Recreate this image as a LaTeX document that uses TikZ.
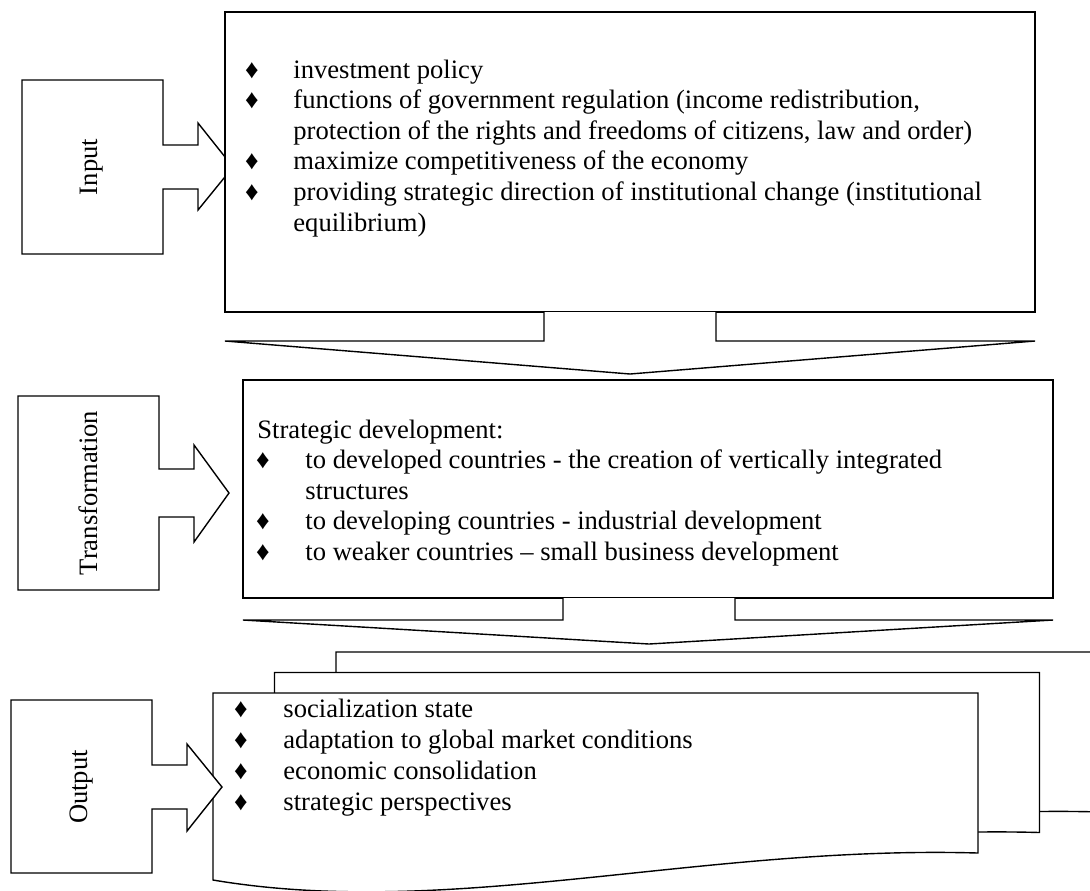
\documentclass[tikz,border=0pt]{standalone}
\usepackage{fontspec}
\setmainfont{Liberation Serif}
\tikzset{
  outline/.style={draw,line width=.7pt,fill=white},
  txt/.style={font=\fontsize{13.3}{15.3}\selectfont,inner sep=0pt,anchor=base west},
  bul/.style={font=\fontsize{13.3}{15.3}\selectfont,inner sep=0pt,anchor=base},
  side/.style={font=\fontsize{13.3}{15.3}\selectfont,rotate=90}
}
\begin{document}
\begin{tikzpicture}[x=.5pt,y=-.5pt]
	\useasboundingbox (0,0) rectangle (1090,890);
	\clip (0,0) rectangle (1090,890);
	%	\draw [color=gray!50]  [step=10] (0,0) grid (1090,890);
	
	% input
	\draw[outline] (22,80) -- (163,80) -- (163,145) -- (198,145) -- (198,123) -- (233,167) -- (198,210) -- (198,189) -- (163,189) -- (163,254) -- (22,254) -- cycle;
	\node[side] (inlab) at (92,167) {Input};
	\draw[outline] (225,12) rectangle (1035,312);
	\foreach \n/\yy in {1/78,2/108.6,3/169.8,4/200.4}
		\node[bul] (inb\n) at (252,\yy) {♦};
	\foreach \n/\yy/\t in {1/78/{investment policy},
		2/108.6/{functions of government regulation (income redistribution,},
		3/139.2/{protection of the rights and freedoms of citizens, law and order)},
		4/169.8/{maximize competitiveness of the economy},
		5/200.4/{providing strategic direction of institutional change (institutional},
		6/231/{equilibrium)}}
		\node[txt] (in\n) at (293,\yy) {\t};
	\draw[outline] (544,312) -- (544,341) -- (225,341) -- (630,374) -- (1035,341) -- (716,341) -- (716,312);
	
	% transformation
	\draw[outline] (18,396) -- (159,396) -- (159,469) -- (194,469) -- (194,445) -- (229,493) -- (194,542) -- (194,517) -- (159,517) -- (159,590) -- (18,590) -- cycle;
	\node[side] (trlab) at (88,493) {Transformation};
	\draw[outline] (243,380) rectangle (1053,598);
	\node[txt] (trhead) at (257,438) {Strategic development:};
	\foreach \n/\yy in {1/468.6,2/529.8,3/560.4}
		\node[bul] (trb\n) at (263,\yy) {♦};
	\foreach \n/\yy/\t in {1/468.6/{to developed countries - the creation of vertically integrated},
		2/499.2/{structures},
		3/529.8/{to developing countries - industrial development},
		4/560.4/{to weaker countries – small business development}}
		\node[txt] (tr\n) at (305,\yy) {\t};
	\draw[outline] (563,598) -- (563,620) -- (243,620) -- (649,644) -- (1053,620) -- (735,620) -- (735,598);
	
	% output
	\foreach \s in {2,1,0}
		\draw[outline,shift={(61.5*\s,-20.5*\s)}] (213,693) -- (978,693) -- (978,853) .. controls (700,845) and (450,920) .. (213,880) -- cycle;
	\draw[outline] (11,700) -- (152,700) -- (152,765) -- (187,765) -- (187,744) -- (222,787) -- (187,831) -- (187,809) -- (152,809) -- (152,873) -- (11,873) -- cycle;
	\node[side] (outlab) at (82,787) {Output};
	\foreach \n/\yy/\t in {1/717/{socialization state},
		2/748/{adaptation to global market conditions},
		3/779/{economic consolidation},
		4/810/{strategic perspectives}}{
		\node[bul] (outb\n) at (241,\yy) {♦};
		\node[txt] (out\n) at (283,\yy) {\t};
	}
\end{tikzpicture}
\end{document}
